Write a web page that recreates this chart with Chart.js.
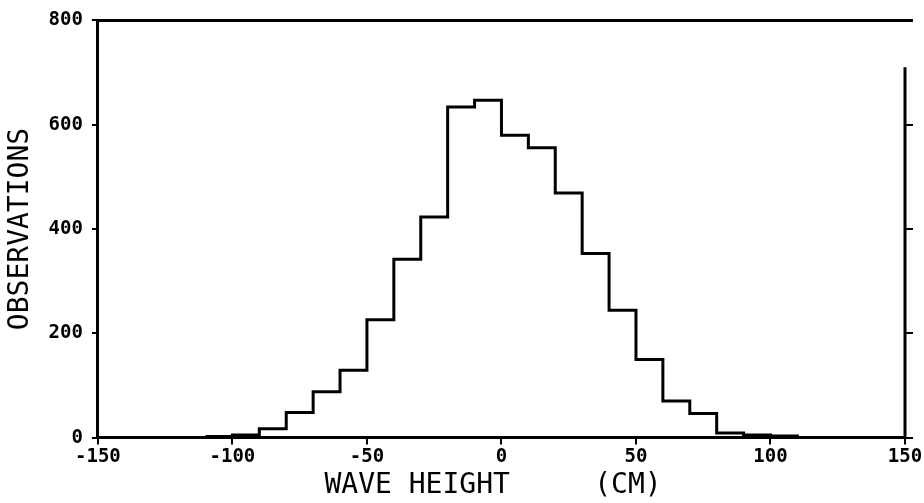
<!DOCTYPE html>
<html>
<head>
<meta charset="utf-8">
<script src="https://cdn.jsdelivr.net/npm/chart.js@4/dist/chart.umd.min.js"></script>
<style>
  body { margin: 0; background: #fff; }
</style>
</head>
<body>
<canvas id="hist" width="924" height="503"></canvas>
<script>
// wave height histogram, 10 cm bins
const binEdges = [-110, -100, -90, -80, -70, -60, -50, -40, -30, -20, -10, 0, 10, 20, 30, 40, 50, 60, 70, 80, 90, 100, 110];
const observations = [2, 5, 17, 48, 88, 129, 226, 342, 423, 634, 647, 580, 556, 469, 353, 244, 150, 70, 46, 9, 5, 3];
const xTicks = [-150, -100, -50, 0, 50, 100, 150];
const yTicks = [0, 200, 400, 600, 800];

// left edge of each bin carries its count, last edge closes the outline
const points = observations.map((v, i) => ({ x: binEdges[i], y: v }));
points.push({ x: binEdges[binEdges.length - 1], y: 0 });

const tickFont = { family: 'DejaVu Sans Mono', size: 19, weight: 'bold' };
const titleFont = { family: 'DejaVu Sans Mono', size: 28 };

// top frame line and the shorter right-hand axis line
const frame = {
  id: 'frame',
  afterDraw(chart) {
    const ctx = chart.ctx;
    const a = chart.chartArea;
    const y = chart.scales.y;
    ctx.save();
    ctx.strokeStyle = '#000';
    ctx.lineWidth = 3;
    ctx.beginPath();
    ctx.moveTo(a.left, a.top);
    ctx.lineTo(a.right + 8, a.top);
    ctx.moveTo(a.right, y.getPixelForValue(710));
    ctx.lineTo(a.right, a.bottom);
    ctx.stroke();
    ctx.restore();
  }
};

new Chart(document.getElementById('hist'), {
  type: 'line',
  data: {
    datasets: [{
      data: points,
      stepped: 'before',
      borderColor: '#000',
      borderWidth: 3,
      pointRadius: 0,
      fill: false
    }]
  },
  options: {
    responsive: false,
    animation: false,
    layout: { padding: { top: 13, right: 11, left: 4, bottom: 0 } },
    plugins: { legend: { display: false }, tooltip: { enabled: false } },
    scales: {
      x: {
        type: 'linear',
        min: -150,
        max: 150,
        afterBuildTicks: s => { s.ticks = xTicks.map(v => ({ value: v })); },
        ticks: { color: '#000', font: tickFont, padding: 1, maxRotation: 0 },
        grid: { drawOnChartArea: false, color: '#000', lineWidth: 2, tickLength: 7 },
        border: { color: '#000', width: 3 },
        title: { display: true, text: 'WAVE HEIGHT     (CM) ', color: '#000', font: titleFont, padding: { top: 0, bottom: 0 } }
      },
      y: {
        min: 0,
        max: 800,
        afterBuildTicks: s => { s.ticks = yTicks.map(v => ({ value: v })); },
        ticks: { color: '#000', font: tickFont, padding: 9 },
        grid: { drawOnChartArea: false, color: '#000', lineWidth: 2, tickLength: 6 },
        border: { color: '#000', width: 3 },
        title: { display: true, text: 'OBSERVATIONS', color: '#000', font: titleFont, padding: { top: 0, bottom: 2 } }
      },
      y2: {
        position: 'right',
        min: 0,
        max: 800,
        afterBuildTicks: s => { s.ticks = yTicks.filter(v => v < 700).map(v => ({ value: v })); },
        ticks: { display: false },
        grid: { drawOnChartArea: false, color: '#000', lineWidth: 2, tickLength: 8 },
        border: { display: false }
      }
    }
  },
  plugins: [frame]
});
</script>
</body>
</html>
